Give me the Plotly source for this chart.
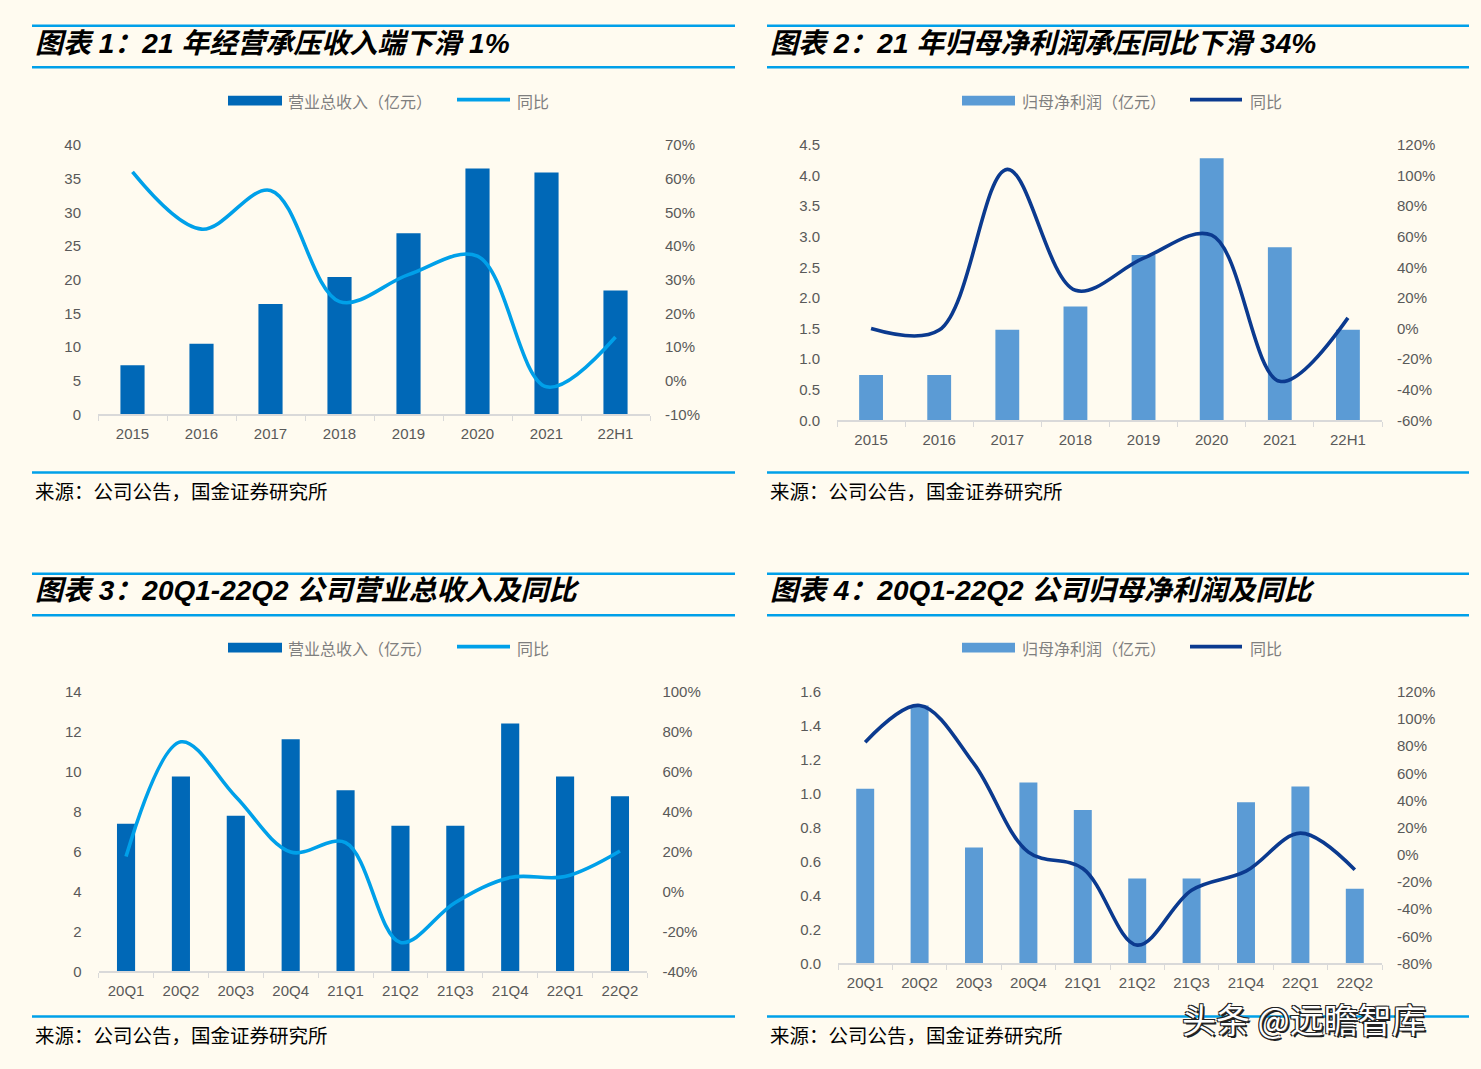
import plotly.graph_objects as go

OFF = 8                      # default body margin of the page
W, H = 1481 - 2 * OFF, 1069 - 2 * OFF
BG = "#FFFBF0"

# ---------------- data ----------------
years = ["2015", "2016", "2017", "2018", "2019", "2020", "2021", "22H1"]
revenue_annual = [7.3, 10.5, 16.4, 20.4, 26.9, 36.5, 35.9, 18.4]
revenue_annual_yoy = [62.0, 45.0, 56.5, 23.5, 31.5, 37.0, -1.8, 13.0]

profit_annual = [0.74, 0.74, 1.48, 1.86, 2.70, 4.28, 2.83, 1.48]
profit_annual_yoy = [0.0, -1.0, 104.0, 25.0, 46.0, 61.0, -34.5, 7.0]

quarters = ["20Q1", "20Q2", "20Q3", "20Q4", "21Q1", "21Q2", "21Q3", "21Q4", "22Q1", "22Q2"]
revenue_q = [7.39, 9.76, 7.79, 11.63, 9.07, 7.29, 7.29, 12.42, 9.76, 8.77]
revenue_q_yoy = [17.5, 75.0, 47.5, 19.8, 24.5, -25.5, -5.5, 7.0, 7.5, 20.3]

profit_q = [1.03, 1.52, 0.684, 1.067, 0.904, 0.50, 0.50, 0.95, 1.043, 0.44]
profit_q_yoy = [83.0, 110.0, 67.0, 2.0, -10.0, -66.5, -26.0, -12.0, 16.0, -11.0]

titles = [
    "图表 1：21 年经营承压收入端下滑 1%",
    "图表 2：21 年归母净利润承压同比下滑 34%",
    "图表 3：20Q1-22Q2 公司营业总收入及同比",
    "图表 4：20Q1-22Q2 公司归母净利润及同比",
]
bar_names = ["营业总收入（亿元）", "归母净利润（亿元）", "营业总收入（亿元）", "归母净利润（亿元）"]
line_name = "同比"
source_text = "来源：公司公告，国金证券研究所"
watermark = "头条 @远瞻智库"

# ---------------- styles ----------------
DARK_BAR = "#0068B7"
LIGHT_LINE = "#00A0E9"
LIGHT_BAR = "#5B9BD5"
NAVY_LINE = "#0B3A8F"
RULE = "#00A0E9"
TICK_COLOR = "#595959"
LEG_COLOR = "#7F7F7F"
AXIS_GRAY = "#D9D9D9"
LAT = "Liberation Sans, Arial, Noto Sans CJK SC, sans-serif"
CJK = "Noto Sans CJK SC, Liberation Sans, sans-serif"


def px(x):
    return (x - OFF) / W


def py(y):
    return 1 - (y - OFF) / H


def pct(v):
    return f"{v}%"


panels = [
    dict(cats=years, bars=revenue_annual, yoy=revenue_annual_yoy, bc=DARK_BAR, lc=LIGHT_LINE,
         xd=(98, 650), yd=(138, 412), yl=(0, 40, 5, ""), yr=(-10, 70, 10), bw=0.35,
         left=32, right=735, top=17, tb=59, foot=471, ttl_y=35, leg_y=93,
         sw=(228, 282, 286), lw=(457, 510, 515)),
    dict(cats=years, bars=profit_annual, yoy=profit_annual_yoy, bc=LIGHT_BAR, lc=NAVY_LINE,
         xd=(837, 1382), yd=(138, 418), yl=(0, 4.5, 0.5, ".1f"), yr=(-60, 120, 20), bw=0.35,
         left=767, right=1469, top=17, tb=59, foot=471, ttl_y=35, leg_y=93,
         sw=(962, 1015, 1020), lw=(1190, 1242, 1248)),
    dict(cats=quarters, bars=revenue_q, yoy=revenue_q_yoy, bc=DARK_BAR, lc=LIGHT_LINE,
         xd=(98.6, 647.4), yd=(694, 978), yl=(0, 14, 2, ""), yr=(-40, 100, 20), bw=0.33,
         left=32, right=735, top=574, tb=616, foot=1024, ttl_y=591, leg_y=649,
         sw=(228, 282, 286), lw=(457, 510, 515)),
    dict(cats=quarters, bars=profit_q, yoy=profit_q_yoy, bc=LIGHT_BAR, lc=NAVY_LINE,
         xd=(838, 1382), yd=(694, 970), yl=(0, 1.6, 0.2, ".1f"), yr=(-80, 120, 20), bw=0.33,
         left=767, right=1469, top=574, tb=616, foot=1024, ttl_y=591, leg_y=649,
         sw=(962, 1015, 1020), lw=(1190, 1242, 1248)),
]

fig = go.Figure()
layout = dict(width=W, height=H, paper_bgcolor=BG, plot_bgcolor="rgba(0,0,0,0)",
              margin=dict(l=0, r=0, t=0, b=0), showlegend=False,
              font=dict(family=LAT, color=TICK_COLOR, size=15))
shapes = []
annotations = []

for i, p in enumerate(panels):
    n = i + 1
    xa = "x" if n == 1 else f"x{n}"
    ya_l = f"y{2 * n - 1}" if n > 1 else "y"
    ya_r = f"y{2 * n}"
    xkey = "xaxis" if n == 1 else f"xaxis{n}"
    ylkey = "yaxis" if 2 * n - 1 == 1 else f"yaxis{2 * n - 1}"
    yrkey = f"yaxis{2 * n}"

    fig.add_trace(go.Bar(x=p["cats"], y=p["bars"], marker=dict(color=p["bc"], line=dict(width=0)),
                         width=p["bw"], xaxis=xa, yaxis=ya_l, name=bar_names[i]))
    fig.add_trace(go.Scatter(x=p["cats"], y=p["yoy"], mode="lines",
                             line=dict(color=p["lc"], width=3.6, shape="spline", smoothing=1.0),
                             xaxis=xa, yaxis=ya_r, name=line_name))

    layout[xkey] = dict(domain=[px(p["xd"][0]), px(p["xd"][1])], anchor=ya_l,
                        type="category", range=[-0.5, len(p["cats"]) - 0.5],
                        showline=True, linecolor=AXIS_GRAY, linewidth=1.5,
                        ticks="outside", tickson="boundaries", ticklen=5, tickcolor=AXIS_GRAY,
                        tickfont=dict(family=LAT, size=15, color=TICK_COLOR),
                        showgrid=False, zeroline=False, fixedrange=True, ticklabelstandoff=5)
    lo, hi, dt, fmt = p["yl"]
    layout[ylkey] = dict(domain=[py(p["yd"][1]), py(p["yd"][0])], anchor=xa,
                         range=[lo, hi], tick0=lo, dtick=dt, tickformat=fmt,
                         showgrid=False, zeroline=False, showline=False, ticks="",
                         tickfont=dict(family=LAT, size=15, color=TICK_COLOR),
                         ticklabelstandoff=16)
    rlo, rhi, rdt = p["yr"]
    rvals = list(range(rlo, rhi + 1, rdt))
    layout[yrkey] = dict(domain=[py(p["yd"][1]), py(p["yd"][0])], anchor=xa,
                         overlaying=ya_l, side="right",
                         range=[rlo, rhi], tickmode="array", tickvals=rvals,
                         ticktext=[pct(v) for v in rvals],
                         showgrid=False, zeroline=False, showline=False, ticks="",
                         tickfont=dict(family=LAT, size=15, color=TICK_COLOR),
                         ticklabelstandoff=14)

    # rules
    for yy in (p["top"], p["tb"], p["foot"]):
        shapes.append(dict(type="line", xref="paper", yref="paper",
                           x0=px(p["left"]), x1=px(p["right"]), y0=py(yy), y1=py(yy),
                           line=dict(color=RULE, width=2.5)))
    # title
    annotations.append(dict(text=titles[i], xref="paper", yref="paper",
                            x=px(p["left"] + 1), y=py(p["ttl_y"]), xanchor="left", yanchor="middle",
                            showarrow=False,
                            font=dict(family=LAT, size=28, color="#000000", weight="bold", style="italic")))
    # source
    annotations.append(dict(text=source_text, xref="paper", yref="paper",
                            x=px(p["left"] + 1), y=py(p["foot"] + 18), xanchor="left", yanchor="middle",
                            showarrow=False, font=dict(family=CJK, size=19.5, color="#000000")))
    # legend (manual)
    s0, s1, st = p["sw"]
    shapes.append(dict(type="rect", xref="paper", yref="paper",
                       x0=px(s0), x1=px(s1), y0=py(p["leg_y"] + 5), y1=py(p["leg_y"] - 5),
                       fillcolor=p["bc"], line=dict(width=0)))
    annotations.append(dict(text=bar_names[i], xref="paper", yref="paper",
                            x=px(st), y=py(p["leg_y"]), xanchor="left", yanchor="middle",
                            showarrow=False, font=dict(family=CJK, size=16, color=LEG_COLOR)))
    l0, l1, lt = p["lw"]
    shapes.append(dict(type="line", xref="paper", yref="paper",
                       x0=px(l0), x1=px(l1), y0=py(p["leg_y"] - 1), y1=py(p["leg_y"] - 1),
                       line=dict(color=p["lc"], width=3.6)))
    annotations.append(dict(text=line_name, xref="paper", yref="paper",
                            x=px(lt), y=py(p["leg_y"]), xanchor="left", yanchor="middle",
                            showarrow=False, font=dict(family=CJK, size=16, color=LEG_COLOR)))

# watermark
annotations.append(dict(text=watermark, xref="paper", yref="paper",
                        x=px(1180), y=py(1026), xanchor="left", yanchor="middle", showarrow=False,
                        font=dict(family=CJK, size=34, color="#FFFFFF",
                                  shadow="2px 2px 0 #222, -1px -1px 0 #222, 1px -1px 0 #222, -1px 1px 0 #222")))

layout["shapes"] = shapes
layout["annotations"] = annotations
fig.update_layout(**layout)

fig.write_html("out.html", config={"responsive": False, "displayModeBar": False},
               post_script=f"document.body.style.background='{BG}';")
